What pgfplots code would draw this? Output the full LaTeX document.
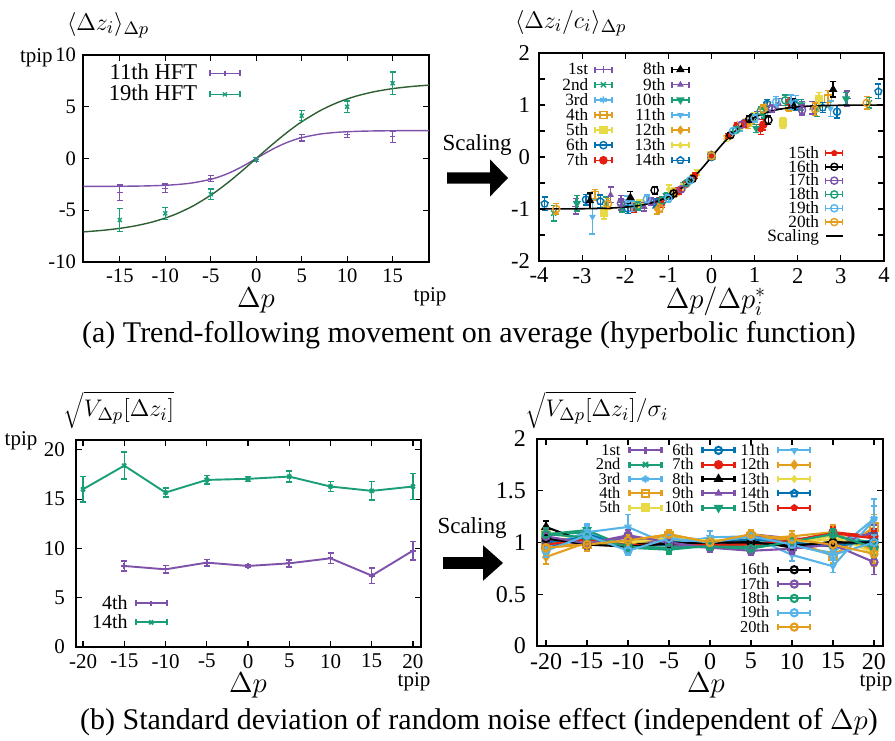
\documentclass[border=0pt]{standalone}
\usepackage[no-math]{fontspec}
\setmainfont{Liberation Serif}
\usepackage{pgfplots}
\usepackage{pgfplotstable}
\pgfplotsset{compat=1.18}
\definecolor{cpur}{RGB}{126,82,170}
\definecolor{cgrn}{RGB}{26,158,119}
\definecolor{clbl}{RGB}{86,180,233}
\definecolor{cora}{RGB}{228,158,30}
\definecolor{cyel}{RGB}{232,218,70}
\definecolor{cblu}{RGB}{0,114,178}
\definecolor{cred}{RGB}{229,30,16}
\definecolor{cdgr}{RGB}{45,95,50}
\pgfplotsset{
  gp/.style={scale only axis, anchor=south west, tick align=inside,
    axis line style={line width=0.9pt}, major tick length=3pt, minor tick length=3pt,
    every tick/.style={black, line width=0.6pt},
    /pgf/number format/assume math mode=true,
    legend cell align=right, legend plot pos=right},
  ov/.style={gp, hide axis},
  eb/.style={/pgfplots/error bars/y dir=both, /pgfplots/error bars/y explicit,
    /pgfplots/error bars/error bar style={line width=#1,solid},
    /pgfplots/error bars/error mark options={rotate=90,line width=#1,mark size=1.5pt,solid}},
  eb/.default=0.55pt,
  errleg/.style={legend image code/.code={%
    \draw[##1,mark=none] (0pt,0pt) -- (#1,0pt);
    \draw[##1,mark=none] (0pt,-1.5pt) -- (0pt,1.5pt);
    \draw[##1,mark=none] (#1,-1.5pt) -- (#1,1.5pt);
    \draw[##1] plot coordinates {({0.5*#1},0pt)};}},
  lineleg/.style={legend image code/.code={\draw[##1] (0pt,0pt) -- (8.5pt,0pt);}},
  s1/.style={color=cpur, mark=+},
  s2/.style={color=cgrn, mark=x},
  s3/.style={color=clbl, mark=asterisk},
  s4/.style={color=cora, mark=square},
  s5/.style={color=cyel, mark=square*},
  s6/.style={color=cblu, mark=o},
  s7/.style={color=cred, mark=*},
  s8/.style={color=black, mark=triangle*},
  s9/.style={color=cpur, mark=triangle*, mark options={scale=0.7}},
  s10/.style={color=cgrn, mark=triangle*, mark options={rotate=180}},
  s11/.style={color=clbl, mark=triangle*, mark options={rotate=180,scale=0.7}},
  s12/.style={color=cora, mark=diamond*},
  s13/.style={color=cyel, mark=diamond*, mark options={scale=0.7}},
  s14/.style={color=cblu, mark=pentagon},
  s15/.style={color=cred, mark=pentagon*, mark options={scale=0.7}},
  s16/.style={color=black, mark=o},
  s17/.style={color=cpur, mark=o},
  s18/.style={color=cgrn, mark=o},
  s19/.style={color=clbl, mark=o},
  s20/.style={color=cora, mark=o},
  p2/.style={at={(269.5pt,239.5pt)}, width=172.5pt, height=104pt,
    xmin=-4, xmax=4, ymin=-2, ymax=2, errleg=8.5pt,
    legend style={draw=none, fill=none, inner sep=0pt, column sep=3pt, anchor=north east,
      font=\fontsize{8.6}{8.6}\selectfont, nodes={inner sep=0pt, text height=6.4pt, text depth=1.15pt}}},
  p2pl/.style={only marks, line width=0.7pt, mark size=1.8pt, eb=0.7pt},
  p4/.style={at={(268.5pt,47pt)}, width=173pt, height=103.5pt,
    xmin=-21.1, xmax=21.1, ymin=0, ymax=2, errleg=16pt,
    legend style={draw=none, fill=none, inner sep=0pt, column sep=4pt, anchor=north east,
      font=\fontsize{8.2}{8.2}\selectfont, nodes={inner sep=0pt, text height=6.1pt, text depth=1.07pt}}},
  p4pl/.style={line width=1.05pt, mark size=1.8pt, eb=0.8pt},
}
\pgfplotstableread{
x y1 y2 y3 y4 y5 y6 y7 y8 y9 y10 y11 y12 y13 y14 y15 y16 y17 y18 y19 y20 e f e11
-20 1.05 1.07 0.93 0.97 1.10 0.95 1.02 1.15 1.03 1.08 0.96 0.86 1.00 1.00 0.98 1.04 1.06 1.08 0.92 0.95 .06 .07 .06
-15 1.00 1.10 1.10 0.98 1.02 1.08 1.04 1.00 0.98 1.12 1.10 1.00 1.02 1.05 1.03 0.98 0.99 1.05 1.07 0.98 .05 .06 .08
-10 1.05 0.97 0.93 1.02 0.99 0.96 0.96 0.98 1.05 0.95 1.15 0.98 1.00 0.97 0.97 0.96 1.07 0.96 0.92 1.02 .04 .05 .12
-5 1.03 0.94 1.06 1.07 1.02 1.01 0.98 1.00 0.97 0.93 0.98 1.08 1.04 0.98 0.99 0.99 1.00 0.95 1.04 1.08 .03 .04 .04
0 0.98 0.98 1.02 1.00 1.00 1.00 0.98 0.98 0.95 0.97 1.05 1.00 1.02 1.00 0.98 1.00 0.95 0.96 1.00 1.00 .03 .04 .06
5 1.08 0.96 1.03 1.06 1.00 1.02 0.99 1.02 1.08 0.95 1.06 1.03 1.03 1.03 0.98 1.00 0.92 0.94 1.06 1.08 .03 .04 .04
10 1.04 1.02 0.97 1.02 1.00 0.99 1.01 0.95 0.98 1.00 0.88 1.06 1.00 1.00 1.02 0.97 0.94 1.01 0.98 1.03 .04 .05 .06
15 1.02 1.06 0.90 0.87 1.03 0.98 1.10 1.01 0.97 1.07 0.77 1.10 1.06 0.96 1.09 1.00 0.98 1.08 0.88 0.98 .05 .07 .06
20 1.10 1.00 1.23 1.15 0.95 1.00 1.06 0.98 1.10 0.97 1.22 0.92 0.90 1.02 1.04 1.00 0.81 0.95 1.00 0.89 .07 .12 .20
}\tabD
\begin{document}
\begin{tikzpicture}
\useasboundingbox (0,0) rectangle (447.5pt,370pt);
% ---------------- panel (a) left
\begin{axis}[gp, at={(41.5pt,239pt)}, width=173pt, height=103.5pt,
  xmin=-19.05, xmax=19, ymin=-10, ymax=10,
  xtick={-15,-10,...,15}, ytick={-10,-5,...,10},
  ticklabel style={font=\fontsize{10.3}{10.3}\selectfont},
  errleg=15pt,
  legend style={draw=none, fill=none, inner sep=0pt, column sep=6pt, anchor=north east,
    at={(0.4566,0.9638)}, font=\fontsize{11.3}{11.3}\selectfont,
    nodes={inner sep=0pt, text height=8.3pt, text depth=2.2pt}}]
\addplot[cpur, line width=0.7pt, smooth, forget plot] coordinates {(-19,-2.696) (-17,-2.692) (-15,-2.683) (-13,-2.664) (-11,-2.622) (-9,-2.536) (-7,-2.358) (-5,-2.012) (-4,-1.746) (-3,-1.406) (-2,-0.990) (-1,-0.513) (0,0) (1,0.513) (2,0.990) (3,1.406) (4,1.746) (5,2.012) (7,2.358) (9,2.536) (11,2.622) (13,2.664) (15,2.683) (17,2.692) (19,2.696)};
\addplot[cdgr, line width=0.7pt, smooth, forget plot] coordinates {(-19,-7.09) (-17,-6.95) (-15,-6.75) (-13,-6.456) (-11,-6.03) (-9,-5.43) (-7,-4.61) (-5,-3.547) (-4,-2.925) (-3,-2.248) (-2,-1.525) (-1,-0.771) (0,0) (1,0.771) (2,1.525) (3,2.248) (4,2.925) (5,3.547) (7,4.61) (9,5.43) (11,6.03) (13,6.456) (15,6.75) (17,6.95) (19,7.09)};
\addplot[cpur, mark=+, only marks, line width=0.65pt, mark size=1.4pt, eb=0.65pt] coordinates {(-15,-3.3)+-(0,0.75) (-10,-2.88)+-(0,0.42) (-5,-1.92)+-(0,0.3) (0,-0.12)+-(0,0.2) (5,2.0)+-(0,0.3) (10,2.33)+-(0,0.3) (15,2.1)+-(0,0.55)};
\addlegendentry{11th HFT}
\addplot[cgrn, mark=x, only marks, line width=0.65pt, mark size=1.4pt, eb=0.65pt] coordinates {(-15,-5.94)+-(0,1.1) (-10,-5.3)+-(0,0.57) (-5,-3.46)+-(0,0.5) (0,-0.12)+-(0,0.2) (5,4.14)+-(0,0.47) (10,5.0)+-(0,0.55) (15,7.27)+-(0,1.1)};
\addlegendentry{19th HFT}
\end{axis}
% ---------------- panel (a) right
\begin{axis}[gp, p2, xtick={-4,...,4}, ytick={-2,...,2}, minor ytick={-1.5,-0.5,0.5,1.5},
  ticklabel style={font=\fontsize{11.3}{11.3}\selectfont}, yticklabel style={xshift=-1pt},
  legend style={at={(0.2145,0.958)}}]
\addplot[s1,p2pl] coordinates {(-3.15,-0.95)+-(0,.15) (-2.1,-0.88)+-(0,.14) (-1.05,-0.80)+-(0,.08) (0,0.02)+-(0,.05) (1.05,0.80)+-(0,.07) (2.1,0.95)+-(0,.12) (3.15,1.12)+-(0,.15)};
\addlegendentry{1st}
\addplot[s2,p2pl] coordinates {(-3.66,-1.08)+-(0,.15) (-2.44,-0.89)+-(0,.12) (-1.22,-0.86)+-(0,.07) (0,0.03)+-(0,.05) (1.22,0.83)+-(0,.08) (2.44,0.92)+-(0,.14) (3.66,1.04)+-(0,.10)};
\addlegendentry{2nd}
\addplot[s3,p2pl] coordinates {(-1.95,-0.85)+-(0,.10) (-1.3,-0.90)+-(0,.08) (-0.65,-0.55)+-(0,.05) (0,0.05)+-(0,.04) (0.65,0.55)+-(0,.05) (1.3,0.88)+-(0,.10) (1.95,1.06)+-(0,.12)};
\addlegendentry{3rd}
\addplot[s4,p2pl] coordinates {(-2.7,-0.73)+-(0,.10) (-1.8,-0.94)+-(0,.08) (-0.9,-0.70)+-(0,.06) (0,0.02)+-(0,.05) (0.9,0.70)+-(0,.07) (1.8,0.97)+-(0,.10) (2.7,1.12)+-(0,.16)};
\addlegendentry{4th}
\addplot[s5,p2pl] coordinates {(-2.49,-1.07)+-(0,.12) (-1.66,-0.90)+-(0,.08) (-0.83,-0.66)+-(0,.06) (0,0.04)+-(0,.05) (0.83,0.66)+-(0,.06) (1.66,0.66)+-(0,.10) (2.49,1.10)+-(0,.14)};
\addlegendentry{5th}
\addplot[s6,p2pl] coordinates {(-2.91,-0.82)+-(0,.10) (-1.94,-0.99)+-(0,.10) (-0.97,-0.75)+-(0,.06) (0,0.00)+-(0,.04) (0.97,0.78)+-(0,.06) (1.94,1.00)+-(0,.10) (2.91,0.87)+-(0,.12)};
\addlegendentry{6th}
\addplot[s7,p2pl] coordinates {(-1.8,-0.98)+-(0,.08) (-1.2,-0.85)+-(0,.07) (-0.6,-0.52)+-(0,.05) (0,0.03)+-(0,.04) (0.6,0.60)+-(0,.05) (1.2,0.62)+-(0,.10) (1.8,1.05)+-(0,.10)};
\addlegendentry{7th}
\end{axis}
\begin{axis}[ov, p2, legend style={at={(0.4377,0.958)}}]
\addplot[s8,p2pl] coordinates {(-2.82,-0.84)+-(0,.15) (-1.88,-0.78)+-(0,.12) (-0.94,-0.73)+-(0,.07) (0,0.03)+-(0,.04) (0.94,0.75)+-(0,.06) (1.88,1.02)+-(0,.10) (2.82,1.30)+-(0,.15)};
\addlegendentry{8th}
\addplot[s9,p2pl] coordinates {(-2.34,-0.73)+-(0,.15) (-1.56,-0.96)+-(0,.08) (-0.78,-0.64)+-(0,.05) (0,0.02)+-(0,.04) (0.78,0.66)+-(0,.05) (1.56,1.02)+-(0,.10) (2.34,0.95)+-(0,.12)};
\addlegendentry{9th}
\addplot[s10,p2pl] coordinates {(-3.12,-0.89)+-(0,.15) (-2.08,-0.96)+-(0,.10) (-1.04,-0.74)+-(0,.06) (0,0.03)+-(0,.04) (1.04,0.55)+-(0,.08) (2.08,1.00)+-(0,.10) (3.12,1.12)+-(0,.12)};
\addlegendentry{10th}
\addplot[s11,p2pl] coordinates {(-2.76,-1.15)+-(0,.33) (-1.84,-0.95)+-(0,.10) (-0.92,-0.70)+-(0,.06) (0,0.02)+-(0,.04) (0.92,0.72)+-(0,.06) (1.84,1.05)+-(0,.14) (2.76,0.93)+-(0,.15)};
\addlegendentry{11th}
\addplot[s12,p2pl] coordinates {(-1.26,-1.00)+-(0,.10) (-0.84,-0.68)+-(0,.07) (-0.42,-0.40)+-(0,.05) (0,0.02)+-(0,.04) (0.42,0.40)+-(0,.05) (0.84,0.62)+-(0,.07) (1.26,0.95)+-(0,.10)};
\addlegendentry{12th}
\addplot[s13,p2pl] coordinates {(-0.99,-0.62)+-(0,.08) (-0.66,-0.58)+-(0,.06) (-0.33,-0.30)+-(0,.05) (0,0.03)+-(0,.04) (0.33,0.35)+-(0,.05) (0.66,0.60)+-(0,.06) (0.99,0.78)+-(0,.07)};
\addlegendentry{13th}
\addplot[s14,p2pl] coordinates {(-3.87,-0.90)+-(0,.13) (-2.58,-0.85)+-(0,.12) (-1.29,-0.88)+-(0,.08) (0,0.02)+-(0,.04) (1.29,1.03)+-(0,.08) (2.58,0.95)+-(0,.10) (3.87,1.26)+-(0,.14)};
\addlegendentry{14th}
\end{axis}
\begin{axis}[ov, p2, legend style={at={(0.884,0.554)}, nodes={inner sep=0pt, text height=6.1pt, text depth=0.8pt}}]
\addplot[s15,p2pl] coordinates {(-1.14,-0.90)+-(0,.07) (-0.76,-0.65)+-(0,.06) (-0.38,-0.36)+-(0,.05) (0,0.03)+-(0,.04) (0.38,0.40)+-(0,.05) (0.76,0.64)+-(0,.06) (1.14,0.53)+-(0,.10)};
\addlegendentry{15th}
\addplot[s16,p2pl] coordinates {(-1.32,-0.64)+-(0,.07) (-0.88,-0.70)+-(0,.06) (-0.44,-0.42)+-(0,.05) (0,0.02)+-(0,.04) (0.44,0.42)+-(0,.05) (0.88,0.73)+-(0,.06) (1.32,0.71)+-(0,.08)};
\addlegendentry{16th}
\addplot[s17,p2pl] coordinates {(-2.1,-0.89)+-(0,.08) (-1.4,-0.86)+-(0,.07) (-0.7,-0.62)+-(0,.05) (0,0.02)+-(0,.04) (0.7,0.62)+-(0,.05) (1.4,0.93)+-(0,.08) (2.1,0.90)+-(0,.10)};
\addlegendentry{17th}
\addplot[s18,p2pl] coordinates {(-1.71,-0.94)+-(0,.08) (-1.14,-0.84)+-(0,.07) (-0.57,-0.50)+-(0,.05) (0,0.02)+-(0,.04) (0.57,0.52)+-(0,.05) (1.14,0.88)+-(0,.08) (1.71,1.09)+-(0,.10)};
\addlegendentry{18th}
\addplot[s19,p2pl] coordinates {(-1.5,-0.81)+-(0,.08) (-1.0,-0.80)+-(0,.07) (-0.5,-0.45)+-(0,.05) (0,0.02)+-(0,.04) (0.5,0.50)+-(0,.05) (1.0,0.74)+-(0,.07) (1.5,1.06)+-(0,.10)};
\addlegendentry{19th}
\addplot[s20,p2pl] coordinates {(-3.6,-1.00)+-(0,.10) (-2.4,-0.90)+-(0,.10) (-1.2,-0.98)+-(0,.08) (0,0.02)+-(0,.04) (1.2,0.92)+-(0,.08) (2.4,0.92)+-(0,.12) (3.6,1.04)+-(0,.12)};
\addlegendentry{20th}
\addplot[black, line width=0.8pt, smooth, lineleg] coordinates {(-4,-0.9993) (-3.5,-0.9982) (-3,-0.9951) (-2.5,-0.9866) (-2.25,-0.978) (-2,-0.964) (-1.75,-0.9414) (-1.5,-0.9051) (-1.25,-0.8483) (-1,-0.7616) (-0.75,-0.6351) (-0.5,-0.4621) (-0.25,-0.2449) (0,0) (0.25,0.2449) (0.5,0.4621) (0.75,0.6351) (1,0.7616) (1.25,0.8483) (1.5,0.9051) (1.75,0.9414) (2,0.964) (2.25,0.978) (2.5,0.9866) (3,0.9951) (3.5,0.9982) (4,0.9993)};
\addlegendentry{Scaling}
\end{axis}
% ---------------- panel (b) left
\begin{axis}[gp, at={(38pt,46.5pt)}, width=172.5pt, height=103.5pt,
  xmin=-20.85, xmax=20.97, ymin=0, ymax=21,
  xtick={-20,-15,...,20}, ytick={0,5,...,20},
  ticklabel style={font=\fontsize{10.5}{10.5}\selectfont}, yticklabel style={xshift=-2pt},
  errleg=15.5pt,
  legend style={draw=none, fill=none, inner sep=0pt, column sep=3.5pt, anchor=north east,
    at={(0.2667,0.2585)}, font=\fontsize{10}{10}\selectfont,
    nodes={inner sep=0pt, text height=8pt, text depth=1.5pt}}]
\addplot[cpur, mark=+, line width=0.95pt, mark size=1.4pt, eb=0.75pt] coordinates {(-15,8.22)+-(0,0.5) (-10,7.88)+-(0,0.37) (-5,8.56)+-(0,0.34) (0,8.22)+-(0,0.15) (5,8.49)+-(0,0.36) (10,9.0)+-(0,0.54) (15,7.24)+-(0,0.8) (20,9.78)+-(0,0.93)};
\addlegendentry{4th}
\addplot[cgrn, mark=x, line width=0.95pt, mark size=1.4pt, eb=0.75pt] coordinates {(-20,16.0)+-(0,1.3) (-15,18.4)+-(0,1.37) (-10,15.67)+-(0,0.45) (-5,16.95)+-(0,0.43) (0,17.06)+-(0,0.25) (5,17.29)+-(0,0.55) (10,16.28)+-(0,0.5) (15,15.84)+-(0,0.93) (20,16.28)+-(0,1.3)};
\addlegendentry{14th}
\end{axis}
% ---------------- panel (b) right
\begin{axis}[gp, p4, xtick={-20,-15,...,20}, ytick={0,0.5,...,2},
  ticklabel style={font=\fontsize{12}{12}\selectfont}, yticklabel style={xshift=-2pt},
  legend style={at={(0.364,0.9816)}}]
\addplot[s1,p4pl] table[x=x,y=y1,y error=e]{\tabD}; \addlegendentry{1st}
\addplot[s2,p4pl] table[x=x,y=y2,y error=e]{\tabD}; \addlegendentry{2nd}
\addplot[s3,p4pl] table[x=x,y=y3,y error=f]{\tabD}; \addlegendentry{3rd}
\addplot[s4,p4pl] table[x=x,y=y4,y error=f]{\tabD}; \addlegendentry{4th}
\addplot[s5,p4pl] table[x=x,y=y5,y error=e]{\tabD}; \addlegendentry{5th}
\end{axis}
\begin{axis}[ov, p4, legend style={at={(0.575,0.9816)}}]
\addplot[s6,p4pl] table[x=x,y=y6,y error=e]{\tabD}; \addlegendentry{6th}
\addplot[s7,p4pl] table[x=x,y=y7,y error=e]{\tabD}; \addlegendentry{7th}
\addplot[s8,p4pl] table[x=x,y=y8,y error=e]{\tabD}; \addlegendentry{8th}
\addplot[s9,p4pl] table[x=x,y=y9,y error=e]{\tabD}; \addlegendentry{9th}
\addplot[s10,p4pl] table[x=x,y=y10,y error=f]{\tabD}; \addlegendentry{10th}
\end{axis}
\begin{axis}[ov, p4, legend style={at={(0.794,0.9816)}}]
\addplot[s11,p4pl] table[x=x,y=y11,y error=e11]{\tabD}; \addlegendentry{11th}
\addplot[s12,p4pl] table[x=x,y=y12,y error=f]{\tabD}; \addlegendentry{12th}
\addplot[s13,p4pl] table[x=x,y=y13,y error=e]{\tabD}; \addlegendentry{13th}
\addplot[s14,p4pl] table[x=x,y=y14,y error=e]{\tabD}; \addlegendentry{14th}
\addplot[s15,p4pl] table[x=x,y=y15,y error=e]{\tabD}; \addlegendentry{15th}
\end{axis}
\begin{axis}[ov, p4, legend style={at={(0.794,0.405)}}]
\addplot[s16,p4pl] table[x=x,y=y16,y error=e]{\tabD}; \addlegendentry{16th}
\addplot[s17,p4pl] table[x=x,y=y17,y error=f]{\tabD}; \addlegendentry{17th}
\addplot[s18,p4pl] table[x=x,y=y18,y error=e]{\tabD}; \addlegendentry{18th}
\addplot[s19,p4pl] table[x=x,y=y19,y error=e]{\tabD}; \addlegendentry{19th}
\addplot[s20,p4pl] table[x=x,y=y20,y error=f]{\tabD}; \addlegendentry{20th}
\end{axis}
% ---------------- texts and arrows
\node[anchor=west, font=\fontsize{13}{13}\selectfont] at (30pt,357.5pt) {$\langle\Delta z_i\rangle_{\Delta p}$};
\node[anchor=west, font=\fontsize{10.5}{10.5}\selectfont] at (6.5pt,341pt) {tpip};
\node[font=\fontsize{14.5}{14.5}\selectfont] at (128pt,220pt) {$\Delta p$};
\node[font=\fontsize{10.5}{10.5}\selectfont] at (215pt,221.5pt) {tpip};
\node[anchor=west, font=\fontsize{13}{13}\selectfont] at (254pt,358.5pt) {$\langle\Delta z_i/c_i\rangle_{\Delta p}$};
\node[font=\fontsize{14}{14}\selectfont] at (358pt,219.5pt) {$\Delta p/\Delta p_i^*$};
\node[font=\fontsize{11.5}{11.5}\selectfont] at (238.5pt,297.5pt) {Scaling};
\fill (223.5pt,278.2pt) -- (245pt,278.2pt) -- (245pt,271.7pt) -- (254pt,281pt) -- (245pt,290.3pt) -- (245pt,283.8pt) -- (223.5pt,283.8pt) -- cycle;
\node[font=\fontsize{15}{15}\selectfont] at (234.5pt,202.5pt) {(a) Trend-following movement on average (hyperbolic function)};
\node[font=\fontsize{12.5}{12.5}\selectfont] at (59.5pt,165pt) {$\sqrt{V_{\Delta p}[\Delta z_i]}$};
\node[font=\fontsize{10.5}{10.5}\selectfont] at (10.5pt,149.5pt) {tpip};
\node[font=\fontsize{14.5}{14.5}\selectfont] at (124pt,27.5pt) {$\Delta p$};
\node[font=\fontsize{10.5}{10.5}\selectfont] at (207pt,29pt) {tpip};
\node[font=\fontsize{12.5}{12.5}\selectfont] at (298.5pt,165pt) {$\sqrt{V_{\Delta p}[\Delta z_i]}/\sigma_i$};
\node[font=\fontsize{14.5}{14.5}\selectfont] at (353pt,27.5pt) {$\Delta p$};
\node[font=\fontsize{10.5}{10.5}\selectfont] at (438pt,29pt) {tpip};
\node[font=\fontsize{11.5}{11.5}\selectfont] at (236pt,106pt) {Scaling};
\fill (221.5pt,85.6pt) -- (241.5pt,85.6pt) -- (241.5pt,79.6pt) -- (251.5pt,88.5pt) -- (241.5pt,97.4pt) -- (241.5pt,91.4pt) -- (221.5pt,91.4pt) -- cycle;
\node[font=\fontsize{15}{15}\selectfont] at (239.5pt,9pt) {(b) Standard deviation of random noise effect (independent of $\Delta p$)};
\end{tikzpicture}
\end{document}
